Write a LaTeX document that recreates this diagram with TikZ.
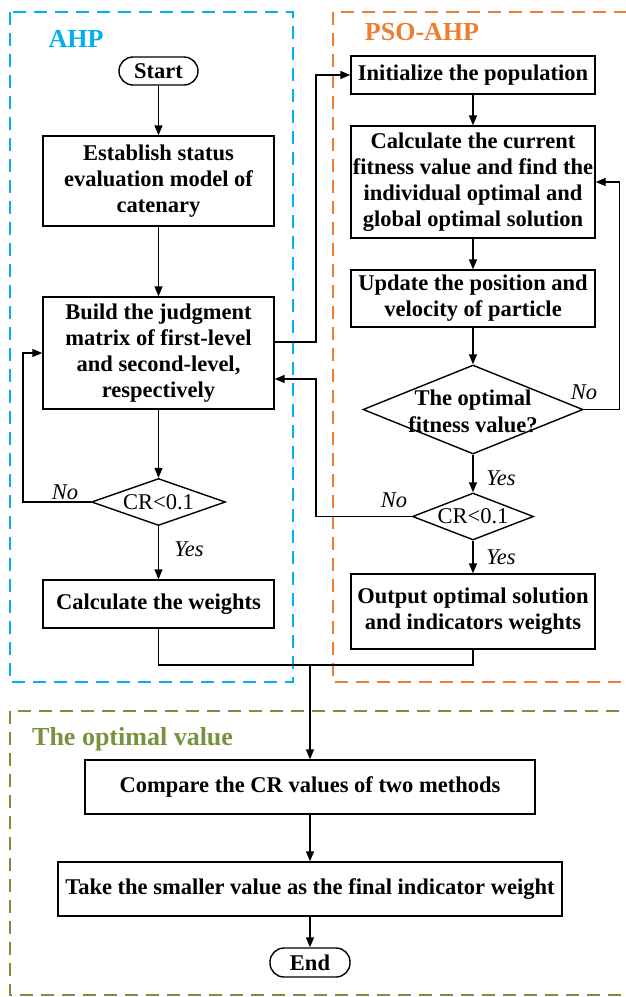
\documentclass[tikz,border=0pt]{standalone}
\usepackage{fontspec}
\setmainfont{Liberation Serif}
\usetikzlibrary{shapes.geometric, arrows.meta, positioning, calc}
\definecolor{AhpBlue}{RGB}{0, 176, 240}
\definecolor{PsoOrange}{RGB}{237, 125, 49}
\definecolor{OptGreen}{RGB}{118, 146, 60}
\tikzstyle{process} = [rectangle, draw, line width=1.4pt, align=center, inner sep=0pt, font=\bfseries\fontsize{22.5}{26}\selectfont]
\tikzstyle{terminal} = [process, rounded corners=14pt]
\tikzstyle{decision} = [diamond, draw, line width=1.4pt, inner sep=0pt]
\tikzstyle{dtext} = [align=center, inner sep=0pt, font=\fontsize{22.5}{26}\selectfont]
\tikzstyle{tag} = [inner sep=0pt, font=\itshape\fontsize{22.5}{26}\selectfont]
\tikzstyle{frame} = [line width=2.4pt, dash pattern=on 13pt off 8pt]
\tikzstyle{title} = [inner sep=0pt, font=\bfseries\fontsize{26}{30}\selectfont]
\tikzstyle{arrow} = [-{Triangle[length=10pt,width=8pt]}, line width=1.4pt]
\tikzstyle{line} = [line width=1.4pt]

\begin{document}
\begin{tikzpicture}[x=1pt, y=-1pt]
\useasboundingbox (0,0) rectangle (625,997);

% Dashed group frames
\draw[frame, AhpBlue] (10,12) rectangle (293,682);
\draw[frame, PsoOrange] (333,12) rectangle (650,682);
\draw[frame, OptGreen] (10,711) rectangle (650,995);
\node (ahptitle) [title, AhpBlue] at (76,39) {AHP};
\node (psotitle) [title, PsoOrange] at (422,32) {PSO-AHP};
\node (opttitle) [title, OptGreen, anchor=west] at (32,739) {The optimal value};

% AHP column
\node (start) [terminal, minimum width=79pt, minimum height=28pt] at (158.5,71) {Start};
\node (establish) [process, minimum width=231pt, minimum height=90pt] at (158.5,181) {Establish status\\evaluation model of\\catenary};
\node (build) [process, minimum width=231pt, minimum height=112pt] at (158.5,353) {Build the judgment\\matrix of first-level\\and second-level,\\respectively};
\node (cr1) [decision, minimum width=134pt, minimum height=47pt] at (158.5,502) {};
\node (cr1t) [dtext] at (cr1) {CR<0.1};
\node (weights) [process, minimum width=231pt, minimum height=48pt] at (158.5,604) {Calculate the weights};

% PSO-AHP column
\node (init) [process, minimum width=244pt, minimum height=38pt] at (473,75) {Initialize the population};
\node (current) [process, minimum width=244pt, minimum height=112pt] at (473,182) {Calculate the current\\fitness value and find the\\individual optimal and\\global optimal solution};
\node (update) [process, minimum width=244pt, minimum height=57pt] at (473,298.5) {Update the position and\\velocity of particle};
\node (fit) [decision, minimum width=220pt, minimum height=89pt] at (473,409.5) {};
\node (fitt) [dtext, font=\bfseries\fontsize{22.5}{27}\selectfont] at (473,411) {The optimal\\fitness value?};
\node (cr2) [decision, minimum width=121pt, minimum height=47pt] at (473,516.5) {};
\node (cr2t) [dtext] at (cr2) {CR<0.1};
\node (output) [process, minimum width=244pt, minimum height=75pt] at (473,611.5) {Output optimal solution\\and indicators weights};

% Final stage
\node (compare) [process, minimum width=450pt, minimum height=54pt] at (310,787) {Compare the CR values of two methods};
\node (take) [process, minimum width=504pt, minimum height=54pt] at (310,889) {Take the smaller value as the final indicator weight};
\node (end) [terminal, minimum width=80pt, minimum height=29pt] at (310,962.5) {End};

% Helper points
\coordinate (jog) at (316,0);
\coordinate (buildOut) at ([yshift=11pt]build.east);
\coordinate (buildIn) at ([yshift=-26pt]build.east);
\coordinate (merge) at (310,665);

% Arrows
\draw [arrow] (start) -- (establish);
\draw [arrow] (establish) -- (build);
\draw [arrow] (build) -- (cr1);
\draw [arrow] (cr1) -- (weights);
\draw [arrow] (cr1.west) -- ++(-68,0) |- (build.west);
\draw [arrow] (buildOut) -| (jog |- init) -- (init);
\draw [arrow] (init) -- (current);
\draw [arrow] (current) -- (update);
\draw [arrow] (update) -- (fit);
\draw [arrow] (fit.east) -- ++(36,0) |- (current.east);
\draw [arrow] (fit) -- (cr2);
\draw [arrow] (cr2.west) -| (jog |- buildIn) -- (buildIn);
\draw [arrow] (cr2) -- (output);
\draw [line] (weights.south) |- (merge) -| (output.south);
\draw [arrow] (merge) -- (compare);
\draw [arrow] (compare) -- (take);
\draw [arrow] (take) -- (end);

% Branch labels
\node (no1) [tag] at (65,492) {No};
\node (yes1) [tag] at (189,549) {Yes};
\node (no2) [tag] at (584,392) {No};
\node (yes2) [tag] at (501,478) {Yes};
\node (no3) [tag] at (394,500) {No};
\node (yes3) [tag] at (501,557) {Yes};

\end{tikzpicture}
\end{document}
